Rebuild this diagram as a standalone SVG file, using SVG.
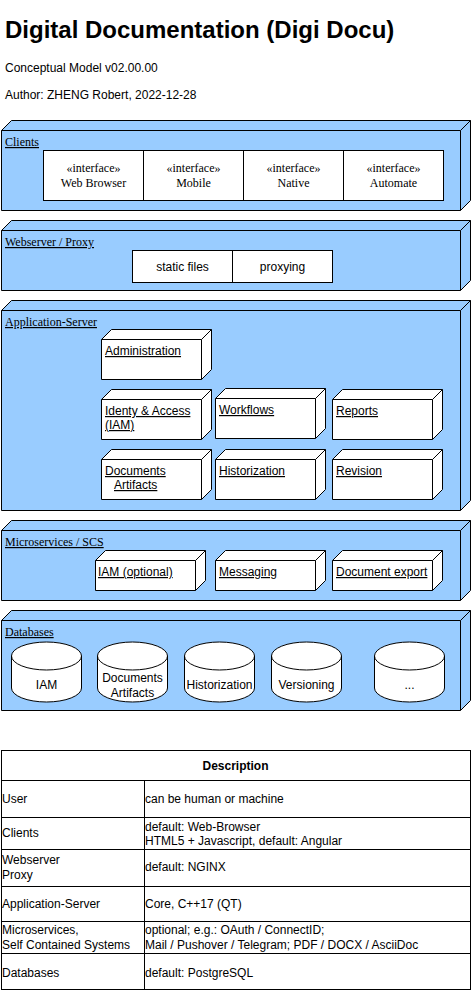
<svg xmlns="http://www.w3.org/2000/svg" width="471" height="991" viewBox="0 0 471 991">
<style>
.bg{fill:#ffffff}
.cont{fill:#99CCFF;stroke:#000;stroke-width:1}
.node{fill:#ffffff;stroke:#000;stroke-width:1}
.ln{fill:none;stroke:#000;stroke-width:1}
.serif{font-family:"Liberation Serif","Times New Roman",serif;font-size:12px;fill:#000}
.sans{font-family:"Liberation Sans",Arial,Helvetica,sans-serif;font-size:12px;fill:#000}
.u{text-decoration:underline}
.mid{text-anchor:middle}
.title{font-family:"Liberation Sans",Arial,Helvetica,sans-serif;font-size:24px;font-weight:bold;fill:#000}
.bold{font-weight:bold}
</style>
<defs>
<g id="box100x40"><path class="node" d="M0,10 L10,0 L110,0 L110,40 L100,50 L0,50 Z"/><path class="ln" d="M0,10 L100,10 L110,0 M100,10 L100,50"/></g>
<g id="box100x30"><path class="node" d="M0,10 L10,0 L110,0 L110,30 L100,40 L0,40 Z"/><path class="ln" d="M0,10 L100,10 L110,0 M100,10 L100,40"/></g>
</defs>
<rect class="bg" x="0" y="0" width="471" height="991"/>

<g id="header">
<text class="title" x="5" y="38">Digital Documentation (Digi Docu)</text>
<text class="sans" x="5" y="72">Conceptual Model v02.00.00</text>
<text class="sans" x="5" y="99">Author: ZHENG Robert, 2022-12-28</text>
</g>

<g id="clients">
<path class="cont" d="M1.5,130.5 L11.5,120.5 L470.5,120.5 L470.5,200.5 L460.5,210.5 L1.5,210.5 Z"/>
<path class="ln" d="M1.5,130.5 L460.5,130.5 L470.5,120.5 M460.5,130.5 L460.5,210.5"/>
<text class="serif u" x="5" y="146">Clients</text>
</g>
<g id="if-web"><rect class="node" x="43.5" y="150.5" width="100" height="50"/><text class="serif mid" x="93.5" y="172">«interface»</text><text class="serif mid" x="93.5" y="187">Web Browser</text></g>
<g id="if-mobile"><rect class="node" x="143.5" y="150.5" width="100" height="50"/><text class="serif mid" x="193.5" y="172">«interface»</text><text class="serif mid" x="193.5" y="187">Mobile</text></g>
<g id="if-native"><rect class="node" x="243.5" y="150.5" width="100" height="50"/><text class="serif mid" x="293.5" y="172">«interface»</text><text class="serif mid" x="293.5" y="187">Native</text></g>
<g id="if-automate"><rect class="node" x="343.5" y="150.5" width="100" height="50"/><text class="serif mid" x="393.5" y="172">«interface»</text><text class="serif mid" x="393.5" y="187">Automate</text></g>

<g id="webserver">
<path class="cont" d="M1.5,230.5 L11.5,220.5 L470.5,220.5 L470.5,280.5 L460.5,290.5 L1.5,290.5 Z"/>
<path class="ln" d="M1.5,230.5 L460.5,230.5 L470.5,220.5 M460.5,230.5 L460.5,290.5"/>
<text class="serif u" x="5" y="246">Webserver / Proxy</text>
</g>
<g id="static-files"><rect class="node" x="132.5" y="250.5" width="100" height="32"/><text class="sans mid" x="182.5" y="271">static files</text></g>
<g id="proxying"><rect class="node" x="232.5" y="250.5" width="100" height="32"/><text class="sans mid" x="282.5" y="271">proxying</text></g>

<g id="appserver">
<path class="cont" d="M1.5,310.5 L11.5,300.5 L470.5,300.5 L470.5,500.5 L460.5,510.5 L1.5,510.5 Z"/>
<path class="ln" d="M1.5,310.5 L460.5,310.5 L470.5,300.5 M460.5,310.5 L460.5,510.5"/>
<text class="serif u" x="5" y="326">Application-Server</text>
</g>
<g id="administration"><use href="#box100x40" x="101.5" y="329.5"/><text class="sans u" x="105" y="355">Administration</text></g>
<g id="iam"><use href="#box100x40" x="101.5" y="389.5"/><text class="sans u" x="105" y="415">Identy &amp; Access</text><text class="sans u" x="105" y="429">(IAM)</text></g>
<g id="workflows"><use href="#box100x40" x="215.5" y="388.5"/><text class="sans u" x="219" y="414">Workflows</text></g>
<g id="reports"><use href="#box100x40" x="332.5" y="389.5"/><text class="sans u" x="336" y="415">Reports</text></g>
<g id="documents"><use href="#box100x40" x="101.5" y="449.5"/><text class="sans u" x="105" y="475">Documents</text><text class="sans u" x="114" y="489">Artifacts</text></g>
<g id="historization"><use href="#box100x40" x="215.5" y="449.5"/><text class="sans u" x="219" y="475">Historization</text></g>
<g id="revision"><use href="#box100x40" x="332.5" y="449.5"/><text class="sans u" x="336" y="475">Revision</text></g>

<g id="microservices">
<path class="cont" d="M1.5,530.5 L11.5,520.5 L470.5,520.5 L470.5,590.5 L460.5,600.5 L1.5,600.5 Z"/>
<path class="ln" d="M1.5,530.5 L460.5,530.5 L470.5,520.5 M460.5,530.5 L460.5,600.5"/>
<text class="serif u" x="5" y="546">Microservices / SCS</text>
</g>
<g id="ms-iam"><use href="#box100x30" x="95.5" y="550.5"/><text class="sans u" x="98" y="576">IAM (optional)</text></g>
<g id="ms-messaging"><use href="#box100x30" x="215.5" y="550.5"/><text class="sans u" x="219" y="576">Messaging</text></g>
<g id="ms-export"><use href="#box100x30" x="332.5" y="550.5"/><text class="sans u" x="336" y="576">Document export</text></g>

<g id="databases">
<path class="cont" d="M1.5,620.5 L11.5,610.5 L470.5,610.5 L470.5,700.5 L460.5,710.5 L1.5,710.5 Z"/>
<path class="ln" d="M1.5,620.5 L460.5,620.5 L470.5,610.5 M460.5,620.5 L460.5,710.5"/>
<text class="serif u" x="5" y="636">Databases</text>
</g>
<g id="db-iam"><path class="node" d="M11.5,656 A35,14 0 0 1 81.5,656 L81.5,688 A35,14 0 0 1 11.5,688 Z"/><path class="ln" d="M11.5,656 A35,14 0 0 0 81.5,656"/><text class="sans mid" x="46.5" y="689">IAM</text></g>
<g id="db-docs"><path class="node" d="M97.5,656 A35,14 0 0 1 167.5,656 L167.5,688 A35,14 0 0 1 97.5,688 Z"/><path class="ln" d="M97.5,656 A35,14 0 0 0 167.5,656"/><text class="sans mid" x="132.5" y="682">Documents</text><text class="sans mid" x="132.5" y="697">Artifacts</text></g>
<g id="db-hist"><path class="node" d="M184.5,656 A35,14 0 0 1 254.5,656 L254.5,688 A35,14 0 0 1 184.5,688 Z"/><path class="ln" d="M184.5,656 A35,14 0 0 0 254.5,656"/><text class="sans mid" x="219.5" y="689">Historization</text></g>
<g id="db-vers"><path class="node" d="M271.5,656 A35,14 0 0 1 341.5,656 L341.5,688 A35,14 0 0 1 271.5,688 Z"/><path class="ln" d="M271.5,656 A35,14 0 0 0 341.5,656"/><text class="sans mid" x="306.5" y="689">Versioning</text></g>
<g id="db-more"><path class="node" d="M374.5,656 A35,14 0 0 1 444.5,656 L444.5,688 A35,14 0 0 1 374.5,688 Z"/><path class="ln" d="M374.5,656 A35,14 0 0 0 444.5,656"/><text class="sans mid" x="409.5" y="689">...</text></g>

<g id="connectors"></g>

<g id="description-table">
<rect class="node" x="1.5" y="750.5" width="469" height="239"/>
<path class="ln" d="M1.5,780.5 H470.5 M1.5,817.5 H470.5 M1.5,849.5 H470.5 M1.5,886.5 H470.5 M1.5,921.5 H470.5 M1.5,953.5 H470.5 M144.5,780.5 V989.5"/>
<text class="sans bold mid" x="235.5" y="770">Description</text>
<text class="sans" x="2" y="803">User</text>
<text class="sans" x="145" y="803">can be human or machine</text>
<text class="sans" x="2" y="837">Clients</text>
<text class="sans" x="145" y="831">default: Web-Browser</text>
<text class="sans" x="145" y="845">HTML5 + Javascript, default: Angular</text>
<text class="sans" x="2" y="864">Webserver</text>
<text class="sans" x="2" y="879">Proxy</text>
<text class="sans" x="145" y="871">default: NGINX</text>
<text class="sans" x="2" y="908">Application-Server</text>
<text class="sans" x="145" y="908">Core, C++17 (QT)</text>
<text class="sans" x="2" y="934">Microservices,</text>
<text class="sans" x="2" y="949">Self Contained Systems</text>
<text class="sans" x="145" y="934">optional; e.g.: OAuth / ConnectID;</text>
<text class="sans" x="145" y="949">Mail / Pushover / Telegram; PDF / DOCX / AsciiDoc</text>
<text class="sans" x="2" y="977">Databases</text>
<text class="sans" x="145" y="977">default: PostgreSQL</text>
</g>
</svg>
